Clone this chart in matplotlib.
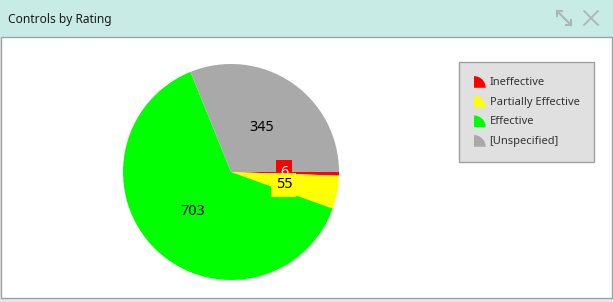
import matplotlib.pyplot as plt
from matplotlib.patches import Rectangle, Wedge
from matplotlib.legend_handler import HandlerPatch
from matplotlib.lines import Line2D

plt.rcParams['font.family'] = ['Noto Sans', 'DejaVu Sans']

categories = ['Ineffective', 'Partially Effective', 'Effective', '[Unspecified]']
values = [6, 55, 703, 345]
colors = ['#FF0000', '#FFFF00', '#00FF00', '#A9A9A9']
label_text_colors = ['white', 'black', 'black', 'black']

W, H = 613, 302
fig = plt.figure(figsize=(W / 100, H / 100), dpi=100)
fig.patch.set_facecolor('#E4E8EA')

# title bar and panel
fig.add_artist(Rectangle((0, 1 - 37 / H), 1, 37 / H, transform=fig.transFigure,
                         facecolor='#C8EBE5', edgecolor='none', zorder=0))
fig.add_artist(Rectangle((1.5 / W, 4 / H), (W - 3) / W, (H - 41) / H, transform=fig.transFigure,
                         facecolor='white', edgecolor='#A0A0A0', lw=1, zorder=0))
fig.text(8 / W, 1 - 19 / H, 'Controls by Rating', fontsize=8.6, va='center', ha='left', color='#1A1A1A')

# window icons
ic = '#A8B8B4'
fig.add_artist(Line2D([557 / W, 571 / W], [1 - 11 / H, 1 - 25 / H], transform=fig.transFigure, color=ic, lw=1.5))
fig.add_artist(Line2D([557 / W, 557 / W, 562 / W], [1 - 16 / H, 1 - 11 / H, 1 - 11 / H], transform=fig.transFigure, color=ic, lw=1.5))
fig.add_artist(Line2D([566 / W, 571 / W, 571 / W], [1 - 25 / H, 1 - 25 / H, 1 - 20 / H], transform=fig.transFigure, color=ic, lw=1.5))
fig.add_artist(Line2D([584 / W, 598 / W], [1 - 11 / H, 1 - 25 / H], transform=fig.transFigure, color=ic, lw=1.3))
fig.add_artist(Line2D([584 / W, 598 / W], [1 - 25 / H, 1 - 11 / H], transform=fig.transFigure, color=ic, lw=1.3))

# pie
cx, cy, r = 231, 172, 108
ax = fig.add_axes([(cx - r) / W, (H - cy - r) / H, 2 * r / W, 2 * r / H])
wedges, texts = ax.pie(values, colors=colors, startangle=0, counterclock=False,
                       labels=[str(v) for v in values], labeldistance=0.5,
                       wedgeprops=dict(linewidth=0))
for i, t in enumerate(texts):
    t.set_ha('center')
    t.set_va('center')
    t.set_fontsize(10.3)
    t.set_color(label_text_colors[i])
    if i < 2:
        t.set_bbox(dict(boxstyle='square,pad=0.3', facecolor=colors[i], edgecolor='none'))
        t.set_zorder(5 + i)
texts[0].set_position((0.49, 0.0))
texts[1].set_position((0.49, -0.12))
texts[2].set_position((-0.35, -0.37))
texts[3].set_position((0.28, 0.41))
ax.set_xlim(-1, 1)
ax.set_ylim(-1, 1)
ax.set_aspect('equal')
ax.axis('off')


class QuarterHandler(HandlerPatch):
    def create_artists(self, legend, orig_handle, xdescent, ydescent, width, height, fontsize, trans):
        s = width
        p = Wedge((-xdescent, -ydescent - 2), s, 0, 90,
                  facecolor=orig_handle.get_facecolor(), edgecolor='none', transform=trans)
        return [p]


handles = [Wedge((0, 0), 1, 0, 90, facecolor=c) for c in colors]
leg = fig.legend(handles, categories, loc='upper left',
                 bbox_to_anchor=(459 / W, 1 - 62 / H), bbox_transform=fig.transFigure,
                 handler_map={Wedge: QuarterHandler()}, fontsize=8,
                 frameon=True, fancybox=False, handlelength=1.05, handletextpad=0.35,
                 labelspacing=0.78, borderpad=1.35, borderaxespad=0)
leg.get_frame().set_facecolor('#E0E0E0')
leg.get_frame().set_edgecolor('#A0A0A0')
leg.get_frame().set_alpha(1)
for t in leg.get_texts():
    t.set_color('#333333')

fig.savefig('out.png', dpi=100, facecolor=fig.get_facecolor())
